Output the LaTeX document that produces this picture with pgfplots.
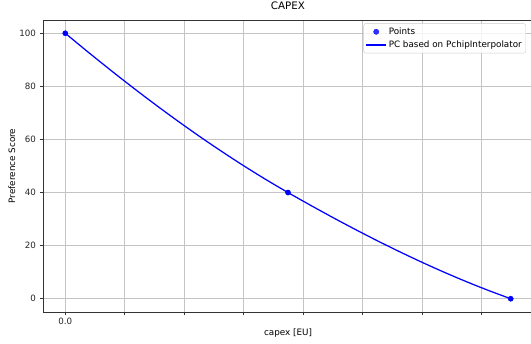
\documentclass[border=0pt]{standalone}
\usepackage{fontspec}
\setmainfont{DejaVu Sans}
\usepackage{pgfplots}
\pgfplotsset{compat=1.18}
\definecolor{gridgray}{HTML}{C4C4C4}
\definecolor{leggray}{HTML}{CCCCCC}
\begin{document}
\begin{tikzpicture}
\begin{axis}[
  scale only axis,
  at={(0,0)}, anchor=south west,
  width=490pt, height=292pt,
  xmin=-0.3745, xmax=7.8645,
  ymin=-5, ymax=105,
  xtick={0,1,2,3,4,5,6,7},
  xticklabels={0.0,,,,,,,},
  ytick={0,20,40,60,80,100},
  tick align=outside,
  xtick pos=bottom, ytick pos=left,
  major tick length=3pt,
  every tick/.style={black!80, line width=0.7pt},
  axis line style={line width=0.7pt, black!80},
  grid=major,
  major grid style={gridgray, line width=0.65pt},
  /pgf/number format/assume math mode=true,
  ticklabel style={font=\fontsize{8.7}{10}\selectfont, text=black!85},
  yticklabel style={xshift=-0.5pt},
  title={CAPEX},
  title style={font=\fontsize{10.3}{12}\selectfont, at={(axis description cs:0.5,1.0154)}, anchor=base, inner sep=0pt},
  xlabel={capex [EU]},
  xlabel style={font=\fontsize{8.8}{10}\selectfont, at={(axis description cs:0.5,-0.0822)}, anchor=base, inner sep=0pt},
  ylabel={Preference Score},
  ylabel style={font=\fontsize{8.8}{10}\selectfont, at={(axis description cs:-0.0571,0.5)}, anchor=base, inner sep=0pt},
  legend style={font=\fontsize{8.8}{10}\selectfont, draw=leggray, rounded corners=2pt, fill=white, fill opacity=0.8, text opacity=1, at={(axis description cs:0.9857,0.988)}, anchor=north east, row sep=1pt, inner sep=2pt},
  legend cell align=left,
]
\addplot[only marks, mark=*, mark size=2.6pt, color=blue, legend image code/.code={\draw[blue, mark=*, mark size=2.6pt] plot coordinates {(10pt,0pt)};}] coordinates {(0,100) (3.745,40) (7.49,0)};
\addlegendentry{Points}
\addplot[color=blue, line width=1.25pt, smooth, legend image code/.code={\draw[blue, line width=1.1pt] (0pt,0pt) -- (20pt,0pt);}] coordinates {
(0,100) (0.3745,93.083) (0.749,86.338) (1.1235,79.776) (1.498,73.410) (1.8725,67.253) (2.247,61.314) (2.6215,55.608) (2.996,50.146) (3.3705,44.939) (3.745,40.0)
(4.1195,35.261) (4.494,30.655) (4.8685,26.193) (5.243,21.887) (5.6175,17.749) (5.992,13.791) (6.3665,10.025) (6.741,6.464) (7.1155,3.118) (7.49,0)
};
\addlegendentry{PC based on PchipInterpolator}
\end{axis}
\pgfresetboundingbox
\useasboundingbox (-43pt,-32pt) rectangle (488pt,312pt);
\end{tikzpicture}
\end{document}
